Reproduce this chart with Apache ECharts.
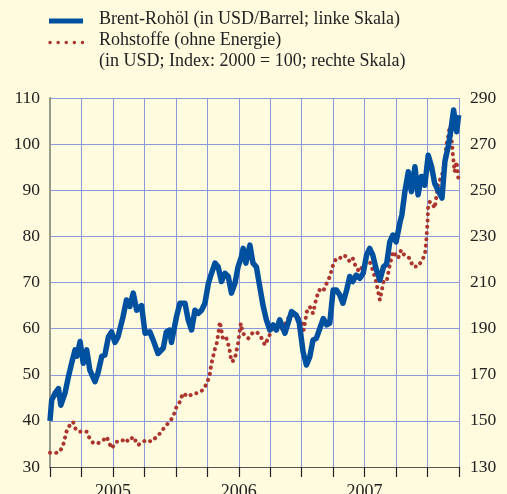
<!DOCTYPE html>
<html><head><meta charset="utf-8">
<script src="https://cdn.jsdelivr.net/npm/echarts@6/dist/echarts.min.js"></script>
<style>html,body{margin:0;padding:0;background:#fefbdf;}#c{width:507px;height:494px;}</style>
</head><body><div id="c"></div>
<script>
// Brent-Rohöl (USD/Barrel; left scale)
const brentDates = ['2005-01-01','2005-01-06','2005-01-16','2005-01-26','2005-02-02','2005-02-13','2005-02-22','2005-03-03','2005-03-13','2005-03-18','2005-03-28','2005-04-06','2005-04-16','2005-04-25','2005-05-10','2005-05-19','2005-05-30','2005-06-08','2005-06-18','2005-06-27','2005-07-07','2005-07-16','2005-07-31','2005-08-10','2005-08-20','2005-08-30','2005-09-09','2005-09-23','2005-10-03','2005-10-17','2005-10-27','2005-11-10','2005-11-25','2005-12-04','2005-12-14','2005-12-19','2005-12-24','2006-01-03','2006-01-13','2006-01-18','2006-01-28','2006-02-06','2006-02-15','2006-02-24','2006-03-05','2006-03-15','2006-03-25','2006-04-04','2006-04-13','2006-04-23','2006-05-02','2006-05-12','2006-05-22','2006-06-01','2006-06-10','2006-06-20','2006-06-29','2006-07-09','2006-07-14','2006-07-22','2006-08-03','2006-08-12','2006-08-22','2006-09-01','2006-09-11','2006-09-20','2006-09-30','2006-10-10','2006-10-19','2006-10-29','2006-11-13','2006-11-22','2006-12-02','2006-12-16','2006-12-25','2007-01-05','2007-01-15','2007-01-25','2007-02-03','2007-02-12','2007-02-20','2007-03-03','2007-03-13','2007-03-22','2007-04-01','2007-04-10','2007-04-20','2007-04-29','2007-05-10','2007-05-19','2007-05-28','2007-06-07','2007-06-17','2007-06-27','2007-07-07','2007-07-16','2007-07-25','2007-08-05','2007-08-15','2007-08-26','2007-09-04','2007-09-13','2007-09-22','2007-10-01','2007-10-13','2007-10-18','2007-10-27','2007-11-06','2007-11-15','2007-11-25','2007-12-04','2007-12-14','2007-12-24','2008-01-03','2008-01-13','2008-01-22','2008-02-01','2008-02-12','2008-02-20','2008-03-01','2008-03-10','2008-03-16','2008-03-25','2008-03-31'];
const brentValues = [40,44.5,46,47,43.4,46,49.5,52.5,55.4,54,57.2,52.5,55.4,51,48.5,50.4,54,54.3,58.2,59.3,57,58.2,62.6,66.2,64.8,67.7,64,65,59,59.3,57.5,54.6,55.8,59.3,59.7,57,56.9,62.6,65.5,65.8,65.5,61.9,59.7,64,63.3,64,65.5,69.8,72,74.2,73.4,70.2,72,71.3,67.7,69.8,73.4,75.6,77.4,74.2,78.1,74.2,73.4,69.1,64.8,61.9,59.7,60.8,59.7,61.9,59,61.2,63.7,62.9,61.2,55,52.1,53.9,57.5,57.9,59.7,62.2,60.8,61.2,68.4,68.4,67.3,65.5,68.4,71.3,70.2,71.6,70.9,72,76,77.4,76,72.7,70.5,73.4,74,78.8,80.3,78.8,83.2,84.6,89.7,94,89.7,95.1,89,93,91.1,97.6,95.1,91.5,90,88.3,96.2,99.8,104.1,107.4,102.7,106.3];

// Rohstoffe ohne Energie (USD; Index 2000 = 100; right scale)
const rohDates = ['2005-01-01','2005-01-16','2005-01-30','2005-02-08','2005-02-17','2005-02-26','2005-03-07','2005-03-16','2005-03-27','2005-04-07','2005-04-16','2005-04-22','2005-05-05','2005-05-19','2005-06-04','2005-06-13','2005-06-27','2005-07-12','2005-07-26','2005-08-05','2005-08-16','2005-08-30','2005-09-13','2005-09-28','2005-10-07','2005-10-22','2005-11-01','2005-11-16','2005-11-30','2005-12-13','2005-12-24','2006-01-03','2006-01-13','2006-01-22','2006-02-06','2006-02-20','2006-03-04','2006-03-19','2006-03-28','2006-04-07','2006-04-13','2006-04-22','2006-04-28','2006-05-04','2006-05-07','2006-05-16','2006-05-25','2006-06-04','2006-06-10','2006-06-19','2006-06-29','2006-07-07','2006-07-13','2006-07-29','2006-08-10','2006-08-22','2006-09-04','2006-09-16','2006-09-25','2006-10-10','2006-10-26','2006-11-07','2006-11-22','2006-12-07','2006-12-19','2007-01-01','2007-01-07','2007-01-16','2007-01-25','2007-02-03','2007-02-12','2007-02-20','2007-03-02','2007-03-13','2007-03-22','2007-04-01','2007-04-10','2007-04-20','2007-04-29','2007-05-10','2007-05-19','2007-05-28','2007-06-07','2007-06-17','2007-06-27','2007-07-07','2007-07-16','2007-07-25','2007-08-04','2007-08-15','2007-08-26','2007-09-04','2007-09-13','2007-09-22','2007-10-07','2007-10-16','2007-10-25','2007-11-10','2007-11-19','2007-12-04','2007-12-13','2007-12-24','2007-12-28','2008-01-01','2008-01-03','2008-01-08','2008-01-16','2008-01-22','2008-02-01','2008-02-12','2008-02-20','2008-02-24','2008-03-01','2008-03-04','2008-03-10','2008-03-14','2008-03-19','2008-03-25','2008-03-30'];
const rohValues = [136.2,136,136.6,139.5,145.3,148.2,149.6,146,145.3,145.6,145.3,143.1,140.3,140.3,141.7,143.1,138.1,141,141,142.4,141,143.1,139.5,141,141.7,141,142.4,144.6,147.5,149.6,151.8,156.1,158.3,162,160.5,162,162,163.4,165.6,169.2,175,180.7,183.6,189.4,193,185.8,186.5,181.5,175.7,176.4,183.6,192.3,188,185.8,188,188.7,186.5,182.9,185.8,190.8,189.4,190.1,194.5,195.9,195.2,193,189.4,197.3,199.5,196.6,203.2,206.8,206,209.7,212.5,217.6,220.5,220.5,221.9,221.2,219,220.5,216.2,214.7,217.6,219,219,215.4,210.4,202.4,210.4,210.4,217.6,223.4,220.5,224.1,221.9,220.5,216.9,216.9,219,221.9,227.7,236.4,243.6,245,244.3,242.2,252.3,256.6,262.4,269.6,274,277.6,272.5,265.3,258,262.4,255.2];

const yearLabels = {6:'2005', 18:'2006', 30:'2007'};
const legendTexts = ['Brent-Rohöl (in USD/Barrel; linke Skala)','Rohstoffe (ohne Energie)','(in USD; Index: 2000 = 100; rechte Skala)'];

function toMonths(s){
  const [y,m,d] = s.split('-').map(Number);
  const dim = new Date(y, m, 0).getDate();
  return (y-2005)*12 + (m-1) + (d-1)/dim;
}
const brent = brentDates.map((d,i)=>[toMonths(d), brentValues[i]]);
const roh = rohDates.map((d,i)=>[toMonths(d), rohValues[i]]);

const FONT = '"Liberation Serif","DejaVu Serif",serif';
const TXT = '#222';
const GRID = '#8a98dc';
const BLUE = '#0050a0';
const RED = '#ad3530';

const chart = echarts.init(document.getElementById('c'), null, {renderer:'canvas'});
chart.setOption({
  backgroundColor:'#fefbdf',
  animation:false,
  grid:{left:50, right:48, top:98, bottom:27, containLabel:false, outerBoundsMode:'none'},
  xAxis:[{
    type:'value', min:0, max:39, interval:3, position:'bottom',
    axisLine:{show:true, onZero:false, lineStyle:{color:'#555', width:1}},
    axisTick:{show:true, length:10, lineStyle:{color:'#222', width:1.2}},
    axisLabel:{show:false},
    splitLine:{show:true, lineStyle:{color:GRID, width:1}}
  },{
    type:'value', min:0, max:39, interval:6, position:'bottom',
    axisLine:{show:false}, axisTick:{show:false}, splitLine:{show:false},
    axisLabel:{show:true, margin:16, fontFamily:FONT, fontSize:18, color:TXT,
      formatter:(v)=>yearLabels[v]||''}
  }],
  yAxis:[{
    type:'value', min:30, max:110, interval:10, position:'left',
    axisLine:{show:true, lineStyle:{color:'#222', width:1}},
    axisTick:{show:false},
    axisLabel:{margin:10, fontFamily:FONT, fontSize:17.5, color:TXT},
    splitLine:{show:true, lineStyle:{color:GRID, width:1}}
  },{
    type:'value', min:130, max:290, interval:20, position:'right', offset:2,
    axisLine:{show:true, lineStyle:{color:'#9a9a8c', width:2}},
    axisTick:{show:false},
    axisLabel:{margin:9, fontFamily:FONT, fontSize:17.5, color:TXT},
    splitLine:{show:false}
  }],
  series:[{
    name:'Rohstoffe', type:'line', xAxisIndex:0, yAxisIndex:1, data:roh,
    symbol:'none', z:3,
    lineStyle:{color:RED, width:4, type:[0.1,6.2], cap:'round', join:'round'}
  },{
    name:'Brent', type:'line', xAxisIndex:0, yAxisIndex:0, data:brent,
    symbol:'none', z:4,
    lineStyle:{color:BLUE, width:5.5, join:'round'}
  }],
  graphic:[
    {type:'line', shape:{x1:49,y1:21,x2:83,y2:21}, style:{stroke:BLUE, lineWidth:5}},
    {type:'line', shape:{x1:50,y1:42.5,x2:83,y2:42.5}, style:{stroke:RED, lineWidth:3.4, lineDash:[0.1,8], lineCap:'round'}},
    {type:'text', left:99, top:10, style:{text:legendTexts[0], font:'18px '+FONT, fill:TXT}},
    {type:'text', left:99, top:31, style:{text:legendTexts[1], font:'18px '+FONT, fill:TXT}},
    {type:'text', left:99, top:52, style:{text:legendTexts[2], font:'18px '+FONT, fill:TXT}}
  ]
});
</script></body></html>
